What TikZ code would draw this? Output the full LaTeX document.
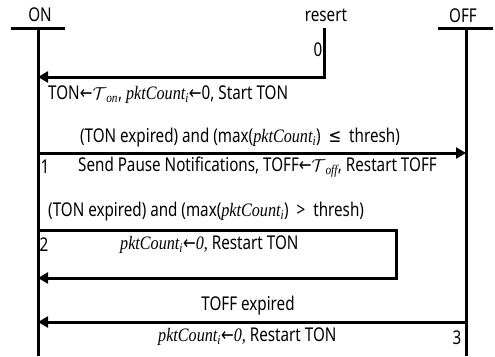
\documentclass[tikz,border=0pt]{standalone}
\usepackage{fontspec}
\setmainfont{Noto Sans}[FakeStretch=0.8]
\newfontfamily\itf{Liberation Serif}[FakeStretch=0.85]
\newfontfamily\symf{DejaVu Sans}[FakeStretch=0.8]
\usetikzlibrary{arrows.meta}
\newcommand\pkc{{\itf\itshape pktCount\textsubscript{i}}}
\newcommand\la{{\symf\char"2190}}
\newcommand\Tsub[1]{{\itf\itshape$\mathcal{T}$\textsubscript{#1}}}
\begin{document}
\begin{tikzpicture}[x=1pt,y=-1pt,
  life/.style={line width=3pt},
  msg/.style={line width=3pt,-{Triangle[length=10pt,width=11pt]}},
  lbl/.style={inner sep=0pt,font=\fontsize{19}{22}\selectfont},
  lblw/.style={lbl,anchor=west}]
\useasboundingbox (0,0) rectangle (495,356);
% lifeline heads
\node[lbl] (onlbl) at (40,15) {ON};
\node[lbl] (offlbl) at (463,16) {OFF};
\node[lbl] (reslbl) at (326,15) {resert};
\coordinate (onbarL) at (11,28);
\coordinate (onbarR) at (65,28);
\coordinate (offbarL) at (438,28);
\coordinate (offbarR) at (493,28);
\draw[life] (onbarL) -- (onbarR);
\draw[life] (offbarL) -- (offbarR);
% lifelines
\coordinate (ontop) at (38,28);
\coordinate (onbot) at (38,356);
\coordinate (offtop) at (466,28);
\coordinate (offbot) at (466,356);
\draw[life] (ontop) -- (onbot);
\draw[life] (offtop) -- (offbot);
% message 0: reset
\coordinate (restop) at (324,28);
\coordinate (on0) at (38,77);
\draw[msg] (restop) |- (on0);
\node[lbl] (n0) at (318,50) {0};
\node[lblw] (t0) at (48,95) {TON\la\Tsub{on}, \pkc\la0, Start TON};
% message 1: ON -> OFF
\coordinate (on1) at (38,153);
\coordinate (off1) at (466,153);
\draw[msg] (on1) -- (off1);
\node[lbl] (g1) at (240,138) {(TON expired) and (max(\pkc) \ {\symf\char"2264} \ thresh)};
\node[lbl] (n1) at (45,167) {1};
\node[lblw] (a1) at (78,167) {Send Pause Notifications, TOFF\la\Tsub{off}, Restart TOFF};
% message 2: self loop on ON
\node[lblw] (g2) at (48,212) {(TON expired) and (max(\pkc) \ > \ thresh)};
\coordinate (on2a) at (38,230);
\coordinate (loopR) at (396,254);
\coordinate (on2b) at (38,278);
\draw[msg] (on2a) -| (loopR) |- (on2b);
\node[lbl] (n2) at (44,245) {2};
\node[lblw] (a2) at (120,245) {{\itf\itshape pktCount\textsubscript{i}\la0,} Restart TON};
% message 3: OFF -> ON
\node[lbl] (g3) at (248,306) {TOFF expired};
\coordinate (off3) at (466,322);
\coordinate (on3) at (38,322);
\draw[msg] (off3) -- (on3);
\node[lblw] (a3) at (158,337) {{\itf\itshape pktCount\textsubscript{i}\la0,} Restart TON};
\node[lbl] (n3) at (457,338) {3};
\end{tikzpicture}
\end{document}
